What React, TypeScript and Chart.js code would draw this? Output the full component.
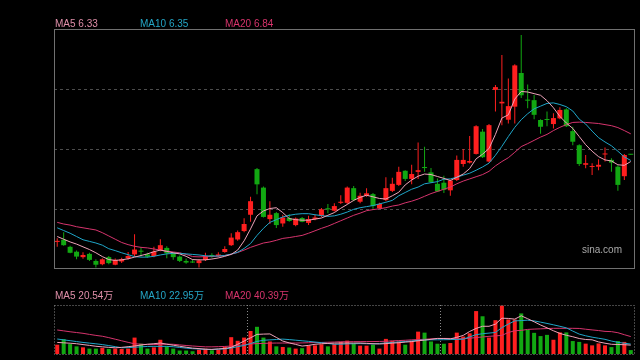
import React, { useEffect, useRef } from 'react';
import { Chart, registerables } from 'chart.js';

Chart.register(...registerables);

// ---- K-line data (price, 元) ----
const open = [
  4.85, 4.89, 4.76, 4.67, 4.57, 4.63, 4.50, 4.44, 4.57, 4.43,
  4.49, 4.55, 4.62, 4.69, 4.62, 4.59, 4.70, 4.74, 4.64, 4.58,
  4.50, 4.49, 4.46, 4.52, 4.61, 4.59, 4.665, 4.79, 4.895, 5.05,
  5.35, 6.19, 5.85, 5.27, 5.38, 5.19, 5.29, 5.16, 5.29, 5.20,
  5.27, 5.33, 5.47, 5.425, 5.57, 5.57, 5.84, 5.59, 5.70, 5.73,
  5.47, 5.62, 5.79, 5.90, 6.16, 6.01, 6.14, 6.23, 6.13, 5.92,
  5.94, 5.80, 5.99, 6.285, 6.31, 6.47, 6.88, 6.33, 7.65, 7.40,
  7.10, 7.34, 7.96, 7.47, 7.46, 7.095, 7.11, 7.02, 7.125, 7.29,
  6.89, 6.63, 6.27, 6.23, 6.235, 6.46, 6.36, 6.235, 6.06, 6.47,
];
const close = [
  4.87, 4.79, 4.65, 4.58, 4.61, 4.52, 4.43, 4.53, 4.46, 4.52,
  4.53, 4.59, 4.71, 4.67, 4.58, 4.67, 4.79, 4.64, 4.57, 4.50,
  4.47, 4.47, 4.51, 4.59, 4.58, 4.62, 4.72, 4.93, 5.03, 5.18,
  5.60, 5.91, 5.31, 5.35, 5.16, 5.30, 5.235, 5.28, 5.22, 5.27,
  5.30, 5.45, 5.45, 5.51, 5.59, 5.85, 5.62, 5.70, 5.745, 5.51,
  5.55, 5.84, 5.92, 6.14, 6.01, 6.10, 6.17, 6.21, 5.95, 5.78,
  5.81, 5.98, 6.36, 6.36, 6.34, 6.98, 6.41, 7.00, 7.70, 7.43,
  7.35, 8.10, 7.55, 7.45, 7.19, 6.97, 7.095, 7.13, 7.28, 6.98,
  6.695, 6.285, 6.30, 6.245, 6.27, 6.47, 6.31, 5.90, 6.45, 6.455,
];
const high = [
  4.92, 5.03, 4.78, 4.69, 4.66, 4.65, 4.53, 4.55, 4.59, 4.545,
  4.56, 4.665, 4.99, 4.75, 4.65, 4.76, 4.90, 4.77, 4.665, 4.60,
  4.545, 4.53, 4.53, 4.65, 4.64, 4.66, 4.77, 5.01, 5.06, 5.285,
  5.68, 6.21, 5.87, 5.60, 5.40, 5.35, 5.36, 5.30, 5.31, 5.33,
  5.35, 5.475, 5.55, 5.56, 5.71, 5.87, 5.88, 5.755, 5.84, 5.75,
  5.57, 6.04, 6.03, 6.235, 6.17, 6.27, 6.68, 6.60, 6.21, 6.02,
  6.07, 6.00, 6.44, 6.56, 6.80, 7.00, 6.93, 7.02, 7.74, 8.29,
  7.86, 8.12, 8.66, 7.75, 7.555, 7.11, 7.25, 7.22, 7.33, 7.31,
  6.97, 6.65, 6.45, 6.30, 6.37, 6.59, 6.39, 6.26, 6.47, 6.47,
];
const low = [
  4.76, 4.78, 4.64, 4.53, 4.54, 4.50, 4.38, 4.42, 4.44, 4.42,
  4.46, 4.52, 4.58, 4.58, 4.56, 4.57, 4.68, 4.55, 4.52, 4.48,
  4.45, 4.46, 4.38, 4.50, 4.56, 4.57, 4.65, 4.775, 4.87, 5.03,
  5.22, 5.73, 5.30, 5.18, 5.105, 5.13, 5.22, 5.14, 5.21, 5.16,
  5.25, 5.31, 5.38, 5.41, 5.55, 5.55, 5.60, 5.56, 5.68, 5.46,
  5.46, 5.60, 5.77, 5.88, 5.97, 5.91, 6.01, 6.14, 5.935, 5.77,
  5.75, 5.70, 5.97, 6.235, 6.295, 6.46, 6.395, 6.31, 7.25, 7.00,
  7.03, 7.03, 7.50, 7.31, 7.11, 6.84, 6.98, 6.94, 7.11, 6.965,
  6.63, 6.25, 6.205, 6.08, 6.17, 6.33, 6.14, 5.79, 5.99, 6.455,
];
const ma5 = [
  4.95, 4.90, 4.85, 4.81, 4.76, 4.71, 4.65, 4.58, 4.525, 4.51,
  4.52, 4.54, 4.57, 4.60, 4.63, 4.67, 4.70, 4.675, 4.65, 4.63,
  4.585, 4.525, 4.52, 4.52, 4.535, 4.555, 4.585, 4.62, 4.70, 4.87,
  5.09, 5.33, 5.42, 5.465, 5.48, 5.39, 5.28, 5.26, 5.25, 5.25,
  5.27, 5.29, 5.34, 5.39, 5.47, 5.54, 5.615, 5.67, 5.71, 5.68,
  5.65, 5.64, 5.70, 5.765, 5.90, 5.99, 6.06, 6.10, 6.09, 6.055,
  6.02, 5.98, 6.04, 6.10, 6.20, 6.38, 6.465, 6.57, 6.83, 7.13,
  7.19, 7.48, 7.62, 7.61, 7.58, 7.55, 7.45, 7.32, 7.16, 7.04,
  6.94, 6.79, 6.64, 6.52, 6.42, 6.36, 6.34, 6.27, 6.26, 6.33,
];
const ma10 = [
  5.11, 5.06, 5.01, 4.95, 4.89, 4.86, 4.83, 4.79, 4.725, 4.69,
  4.65, 4.615, 4.58, 4.57, 4.57, 4.585, 4.61, 4.63, 4.64, 4.64,
  4.63, 4.62, 4.61, 4.595, 4.59, 4.59, 4.60, 4.625, 4.66, 4.73,
  4.82, 4.97, 5.10, 5.21, 5.26, 5.31, 5.34, 5.36, 5.37, 5.37,
  5.35, 5.335, 5.32, 5.33, 5.36, 5.40, 5.45, 5.48, 5.50, 5.52,
  5.55, 5.58, 5.615, 5.70, 5.76, 5.82, 5.86, 5.92, 5.94, 5.96,
  6.005, 6.01, 6.04, 6.08, 6.115, 6.17, 6.23, 6.30, 6.445, 6.61,
  6.79, 6.96, 7.10, 7.21, 7.30, 7.35, 7.40, 7.41, 7.38, 7.34,
  7.26, 7.11, 7.02, 6.89, 6.77, 6.69, 6.62, 6.52, 6.415, 6.35,
];
const ma20 = [
  5.21, 5.18, 5.16, 5.13, 5.11, 5.09, 5.07, 5.02, 4.96, 4.90,
  4.84, 4.80, 4.77, 4.75, 4.74, 4.72, 4.70, 4.68, 4.665, 4.65,
  4.62, 4.58, 4.575, 4.58, 4.58, 4.59, 4.60, 4.625, 4.655, 4.70,
  4.75, 4.79, 4.83, 4.85, 4.88, 4.915, 4.93, 4.95, 4.97, 5.01,
  5.055, 5.10, 5.14, 5.19, 5.24, 5.29, 5.34, 5.38, 5.425, 5.445,
  5.46, 5.48, 5.51, 5.53, 5.57, 5.60, 5.64, 5.69, 5.74, 5.78,
  5.82, 5.86, 5.92, 5.97, 6.01, 6.05, 6.09, 6.15, 6.25, 6.33,
  6.40, 6.50, 6.605, 6.66, 6.72, 6.78, 6.83, 6.90, 6.96, 7.01,
  7.05, 7.055, 7.05, 7.04, 7.03, 7.01, 6.99, 6.955, 6.90, 6.84,
];

// ---- Volume data (万手) ----
const volume = [
  21.6, 34.5, 23, 17.7, 15.4, 12.5, 12.5, 14, 11.8, 12.5,
  11.8, 12.5, 38, 23.8, 12.5, 15.4, 33, 17.7, 12.5, 8,
  8, 6.4, 10.2, 12.5, 8.6, 10.2, 16.3, 39, 30.6, 38,
  53.3, 63, 38, 29, 17.7, 16.3, 15, 12.5, 13.5, 20,
  20, 22.5, 17.7, 23.5, 27.7, 31, 24.5, 19.3, 19.3, 21.6,
  12.5, 35, 30.6, 29, 21.6, 30.6, 51.8, 49.5, 29, 23.8,
  23.8, 25.4, 49.5, 40.4, 48, 99.4, 87.4, 38, 78.3, 112,
  80, 80, 94, 56, 49, 41.5, 44.3, 33, 50, 50,
  30, 28, 24, 20, 24.5, 20, 16, 30, 28, 9,
];
const vma5 = [
  26.8, 25.9, 25, 23.8, 21.8, 20, 17.9, 16.6, 15.4, 14.3,
  15.4, 17, 18.6, 20.7, 22.7, 23.8, 25.4, 22.7, 20.4, 17.9,
  15.7, 13.6, 12.5, 11.1, 10.7, 11.8, 12.9, 15.4, 22.5, 30,
  37.5, 45.4, 46.1, 46.5, 38.4, 30, 25.7, 22.2, 18.4, 20,
  22.5, 23.8, 24.5, 25.2, 25.4, 25.4, 25.4, 25.4, 24.7, 23.8,
  23.2, 24.1, 25.2, 26.1, 27.5, 28.8, 30.6, 32.2, 34, 36.1,
  35.9, 35, 38.6, 43.1, 52.2, 59.2, 64.2, 64.2, 69.2, 82.9,
  82.4, 80.8, 88.5, 81.7, 74.7, 67.2, 60.6, 53.8, 47.7, 43.4,
  40, 35.9, 33.6, 32.9, 28, 25, 22.5, 22, 21.5, 20.54,
];
const vma10 = [
  34.7, 32.7, 30.9, 28.8, 26.8, 25.2, 23.6, 21.8, 19.5, 17,
  14.5, 14.8, 15.7, 16.6, 17.5, 17.7, 17.7, 17.7, 16.8, 15.2,
  13.6, 12.3, 11.6, 10.7, 10.4, 11.1, 11.8, 13.8, 17, 19.7,
  24.3, 29.1, 31.8, 32.7, 33.6, 34.5, 33.4, 32, 30.6, 29.3,
  27.7, 26.3, 24.5, 22.5, 22.7, 23.4, 23.8, 24.1, 23.8, 23.4,
  24.3, 25.7, 26.8, 27.9, 28.8, 30.2, 31.6, 32.7, 32.9, 32.9,
  33.1, 33.4, 33.8, 34.3, 39.7, 44.7, 47, 48.4, 49.9, 61.1,
  69.2, 76.7, 77.4, 78.3, 76.7, 73.8, 70.8, 67.6, 64.2, 60.6,
  53.1, 46.1, 42.2, 39, 36.5, 34, 30, 27, 25, 22.95,
];
const vma20 = [
  55.6, 53.6, 51.5, 49.7, 47.9, 45.4, 43.1, 41.1, 37.9, 34.3,
  30.6, 27, 23.6, 22.7, 21.8, 21.8, 22.2, 22.9, 22.5, 21.1,
  19.7, 18.6, 17.5, 16.6, 16.6, 17, 17.5, 18.4, 19.7, 21.6,
  23.2, 24.1, 24.5, 25.2, 25.4, 25.4, 25.4, 25.4, 25.7, 26.1,
  26.6, 26.8, 27.2, 27.7, 28.4, 28.4, 28.6, 28.6, 28.8, 28.8,
  29.1, 29.5, 30.4, 31.1, 31.8, 32.7, 33.4, 34, 35, 35.6,
  36.1, 35.9, 35.4, 35.2, 36.5, 38.1, 39.5, 40.9, 42, 43.1,
  49.9, 53.8, 54.7, 57, 57.7, 58.3, 59, 59.5, 59.5, 59.5,
  59.5, 59.2, 57.4, 55.8, 54.3, 52.4, 51.8, 49.3, 44.7, 40.39,
];

// legend texts
const priceLegend = [
  { label: 'MA5', value: '6.33' },
  { label: 'MA10', value: '6.35' },
  { label: 'MA20', value: '6.84' },
];
const volumeLegend = [
  { label: 'MA5', value: '20.54万' },
  { label: 'MA10', value: '22.95万' },
  { label: 'MA20', value: '40.39万' },
];
const priceGridTicks = [5.45, 6.55, 7.65];
const categories = open.map((_, i) => String(i + 1));
const monthBreaks = [30, 60];

const RED = '#ff1f1f';
const GREEN = '#12a812';
const C_MA5 = '#eea3b9';
const C_MA10 = '#1fa6c9';
const C_MA20 = '#d6346d';
const LEG_COLORS = ['#e08fa9', '#24a6c6', '#d8346c'];

function framePlugin(dashed: boolean, color: string) {
  return {
    id: 'frame' + (dashed ? 'D' : 'S'),
    afterDatasetsDraw(chart: any) {
      const { ctx, chartArea: a } = chart;
      ctx.save();
      ctx.strokeStyle = color;
      ctx.lineWidth = 1;
      if (dashed) ctx.setLineDash([1, 2]);
      ctx.strokeRect(
        Math.round(a.left) + 0.5,
        Math.round(a.top) + 0.5,
        Math.round(a.right - a.left),
        Math.round(a.bottom - a.top)
      );
      ctx.restore();
    },
  };
}

const lineDs = (data: number[], color: string) => ({
  type: 'line' as const,
  data,
  borderColor: color,
  borderWidth: 1,
  pointRadius: 0,
  tension: 0,
  fill: false,
  order: 0,
});

export default function App() {
  const mainRef = useRef<HTMLCanvasElement>(null);
  const volRef = useRef<HTMLCanvasElement>(null);

  useEffect(() => {
    const colors = close.map((c, i) => (c >= open[i] ? RED : GREEN));
    const main = new Chart(mainRef.current as HTMLCanvasElement, {
      type: 'bar',
      data: {
        labels: categories,
        datasets: [
          lineDs(ma5, C_MA5),
          lineDs(ma10, C_MA10),
          lineDs(ma20, C_MA20),
          {
            type: 'bar',
            data: open.map((o, i) => [o, close[i]]),
            backgroundColor: colors,
            barThickness: 5,
            minBarLength: 1,
            grouped: false,
            inflateAmount: 0,
            order: 1,
          } as any,
          {
            type: 'bar',
            data: low.map((l, i) => [l, high[i]]),
            backgroundColor: colors,
            barThickness: 1,
            grouped: false,
            inflateAmount: 0,
            order: 2,
          } as any,
        ],
      },
      options: {
        responsive: false,
        animation: false,
        events: [],
        layout: { padding: { left: 54, right: 6, top: 29, bottom: 2 } },
        plugins: { legend: { display: false }, tooltip: { enabled: false } },
        scales: {
          x: {
            type: 'category',
            offset: true,
            grid: { display: false, drawTicks: false },
            border: { display: false },
            ticks: { display: false },
          },
          y: {
            type: 'linear',
            min: 4.37,
            max: 8.77,
            afterBuildTicks: (s: any) => {
              s.ticks = priceGridTicks.map((v) => ({ value: v }));
            },
            grid: { color: '#4c4c4c', drawTicks: false },
            border: { display: false, dash: [3, 3] },
            ticks: { display: false },
          },
        },
      } as any,
      plugins: [framePlugin(false, '#707070')],
    });

    const vol = new Chart(volRef.current as HTMLCanvasElement, {
      type: 'bar',
      data: {
        labels: categories,
        datasets: [
          lineDs(vma5, C_MA5),
          lineDs(vma10, C_MA10),
          lineDs(vma20, C_MA20),
          {
            type: 'bar',
            data: volume,
            backgroundColor: colors,
            barThickness: 4,
            inflateAmount: 0,
            order: 1,
          } as any,
        ],
      },
      options: {
        responsive: false,
        animation: false,
        events: [],
        layout: { padding: { left: 54, right: 6, top: 15, bottom: 6 } },
        plugins: { legend: { display: false }, tooltip: { enabled: false } },
        scales: {
          x: {
            type: 'category',
            offset: true,
            grid: {
              offset: true,
              drawTicks: false,
              color: (c: any) => (monthBreaks.includes(c.index) ? '#8a8a8a' : 'rgba(0,0,0,0)'),
            },
            border: { display: false, dash: [1, 2] },
            ticks: { display: false },
          },
          y: {
            type: 'linear',
            min: 0,
            max: 113.5,
            grid: { display: false, drawTicks: false },
            border: { display: false },
            ticks: { display: false },
          },
        },
      } as any,
      plugins: [framePlugin(true, '#8a8a8a')],
    });

    return () => {
      main.destroy();
      vol.destroy();
    };
  }, []);

  const font = '10px "Liberation Sans", Arial, "Noto Sans CJK SC", sans-serif';
  const legX = [55, 140, 225];

  return (
    <div
      style={{
        position: 'fixed',
        left: 0,
        top: 0,
        width: 640,
        height: 360,
        background: '#000',
        overflow: 'hidden',
      }}
    >
      <canvas
        ref={mainRef}
        width={640}
        height={270}
        style={{ position: 'absolute', left: 0, top: 0, width: 640, height: 270 }}
      />
      <canvas
        ref={volRef}
        width={640}
        height={70}
        style={{ position: 'absolute', left: 0, top: 290, width: 640, height: 70 }}
      />
      {priceLegend.map((l, i) => (
        <span
          key={'p' + i}
          style={{
            position: 'absolute',
            left: legX[i],
            top: 18,
            font,
            lineHeight: '12px',
            color: LEG_COLORS[i],
            whiteSpace: 'nowrap',
          }}
        >
          {l.label} {l.value}
        </span>
      ))}
      {volumeLegend.map((l, i) => (
        <span
          key={'v' + i}
          style={{
            position: 'absolute',
            left: legX[i],
            top: 290,
            font,
            lineHeight: '12px',
            color: LEG_COLORS[i],
            whiteSpace: 'nowrap',
          }}
        >
          {l.label} {l.value}
        </span>
      ))}
      <span
        style={{
          position: 'absolute',
          left: 582,
          top: 244,
          font,
          lineHeight: '12px',
          color: '#a8a8a8',
          whiteSpace: 'nowrap',
        }}
      >
        sina.com
      </span>
    </div>
  );
}
